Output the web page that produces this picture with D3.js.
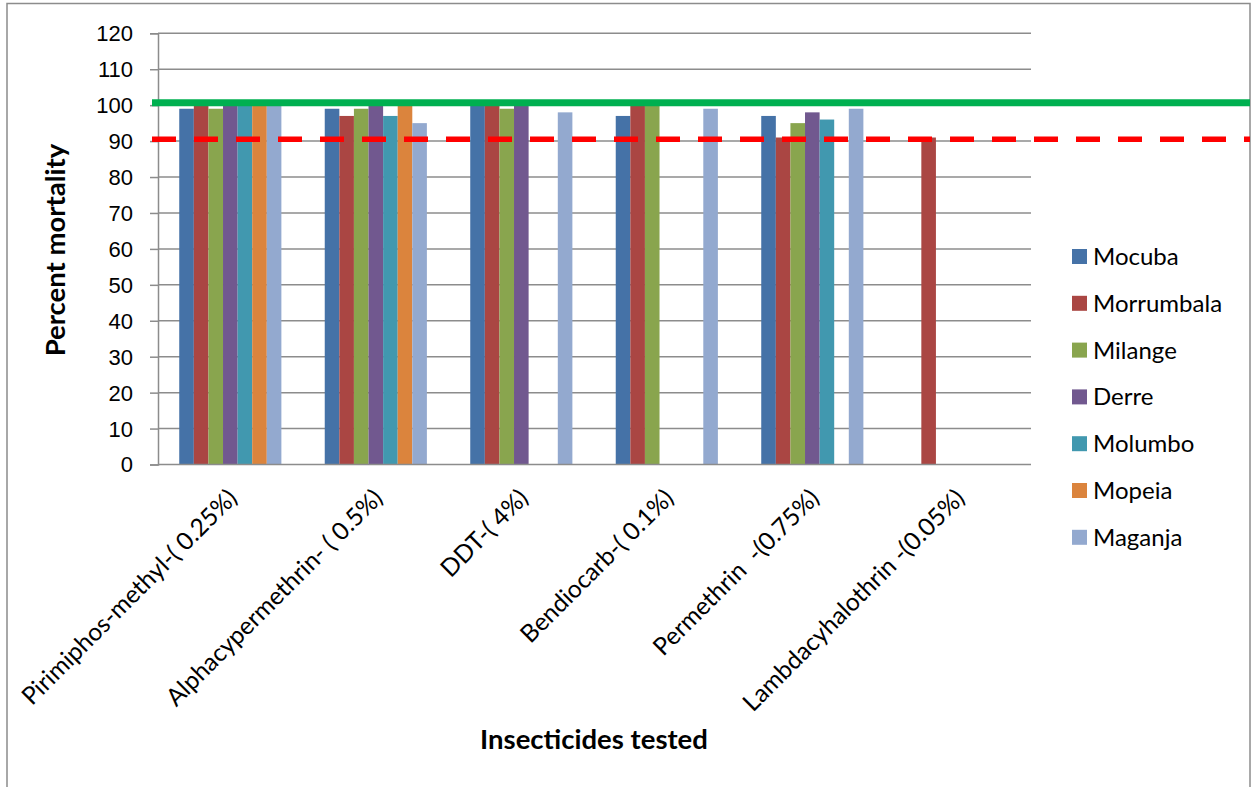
<!DOCTYPE html>
<html><head><meta charset="utf-8">
<script src="https://cdn.jsdelivr.net/npm/d3@7"></script>
<style>body{margin:0;background:#fff}svg{display:block;font-family:Lato,"Open Sans",sans-serif}</style>
</head><body>
<svg id="c" width="1252" height="787"></svg>
<script>
const categories = ["Pirimiphos-methyl-( 0.25%)","Alphacypermethrin- ( 0.5%)","DDT-( 4%)","Bendiocarb-( 0.1%)","Permethrin  -(0.75%)","Lambdacyhalothrin -(0.05%)"];
const seriesNames = ["Mocuba","Morrumbala","Milange","Derre","Molumbo","Mopeia","Maganja"];
const Mocuba     = [99, 99, 100, 97, 97, null];
const Morrumbala = [100, 97, 100, 100, 91, 91];
const Milange    = [99, 99, 99, 100, 95, null];
const Derre      = [100, 100, 100, null, 98, null];
const Molumbo    = [100, 97, null, null, 96, null];
const Mopeia     = [100, 100, null, null, null, null];
const Maganja    = [100, 95, 98, 99, 99, null];
const yTicks = [0,10,20,30,40,50,60,70,80,90,100,110,120];
const targetLine = 100.7;
const thresholdLine = 90.5;

const seriesValues = [Mocuba, Morrumbala, Milange, Derre, Molumbo, Mopeia, Maganja];
const colors = ["#4572A7","#AA4643","#89A54E","#71588F","#4198AF","#DB843D","#93A9CF"];

const svg = d3.select("#c");
// chart border
svg.append("rect").attr("x",7).attr("y",3.5).attr("width",1243).attr("height",800)
  .attr("fill","#fff").attr("stroke","#8c8c8c").attr("stroke-width",1.5);

const L=158, R=1031, T=33.3, B=464.5;
const x0 = d3.scaleBand().domain(categories).range([L,R]).padding(0);
const bw = x0.bandwidth();
const x1 = d3.scaleBand().domain(seriesNames).range([bw*0.146, bw*0.848]).padding(0);
const y = d3.scaleLinear().domain([0,120]).range([B,T]);

// gridlines
svg.append("g").selectAll("line").data(yTicks.filter(d=>d>0)).join("line")
  .attr("x1",L).attr("x2",R).attr("y1",d=>y(d)).attr("y2",d=>y(d))
  .attr("stroke","#8c8c8c").attr("stroke-width",1.5);

// y axis
const yAxis = d3.axisLeft(y).tickValues(yTicks).tickSize(8).tickPadding(17);
const gy = svg.append("g").attr("transform",`translate(${L},0)`).call(yAxis);
gy.select(".domain").attr("stroke","#8c8c8c").attr("stroke-width",1.5);
gy.selectAll(".tick line").attr("stroke","#8c8c8c").attr("stroke-width",1.5);
gy.selectAll("text").attr("font-size",22).attr("fill","#000").attr("dy","0.34em");

// bars
const groups = svg.append("g").selectAll("g").data(categories).join("g")
  .attr("transform",d=>`translate(${x0(d)},0)`);
groups.selectAll("rect").data((d,i)=>seriesNames.map((s,j)=>({s, v:seriesValues[j][i], c:colors[j]})).filter(e=>e.v!=null))
  .join("rect")
  .attr("x",d=>x1(d.s)).attr("width",x1.bandwidth())
  .attr("y",d=>y(d.v)).attr("height",d=>B-y(d.v)).attr("fill",d=>d.c);

// x axis line
svg.append("line").attr("x1",L).attr("x2",R).attr("y1",B).attr("y2",B)
  .attr("stroke","#8c8c8c").attr("stroke-width",1.5);

// x labels
svg.append("g").selectAll("text").data(categories).join("text")
  .attr("transform",d=>`translate(${x0(d)+bw/2+8},${B+35}) rotate(-45)`)
  .attr("text-anchor","end").attr("font-size",24.5).attr("fill","#000")
  .style("white-space","pre").text(d=>d);

// reference lines
svg.append("line").attr("x1",152).attr("x2",1250).attr("y1",y(targetLine)).attr("y2",y(targetLine))
  .attr("stroke","#00B050").attr("stroke-width",7);
svg.append("line").attr("x1",152).attr("x2",1250).attr("y1",y(thresholdLine)).attr("y2",y(thresholdLine))
  .attr("stroke","#FF0000").attr("stroke-width",5.5).attr("stroke-dasharray","24 18");

// axis titles
svg.append("text").attr("x",594).attr("y",749).attr("text-anchor","middle")
  .attr("font-size",27.5).attr("font-weight","bold").text("Insecticides tested");
svg.append("text").attr("transform","translate(65,250) rotate(-90)").attr("text-anchor","middle")
  .attr("font-size",27.5).attr("font-weight","bold").text("Percent mortality");

// legend
const lg = svg.append("g").selectAll("g").data(seriesNames).join("g")
  .attr("transform",(d,i)=>`translate(1072,${249+i*46.8})`);
lg.append("rect").attr("width",15).attr("height",15).attr("fill",(d,i)=>colors[i]);
lg.append("text").attr("x",21).attr("y",16).attr("font-size",24).text(d=>d);
</script>
</body></html>
